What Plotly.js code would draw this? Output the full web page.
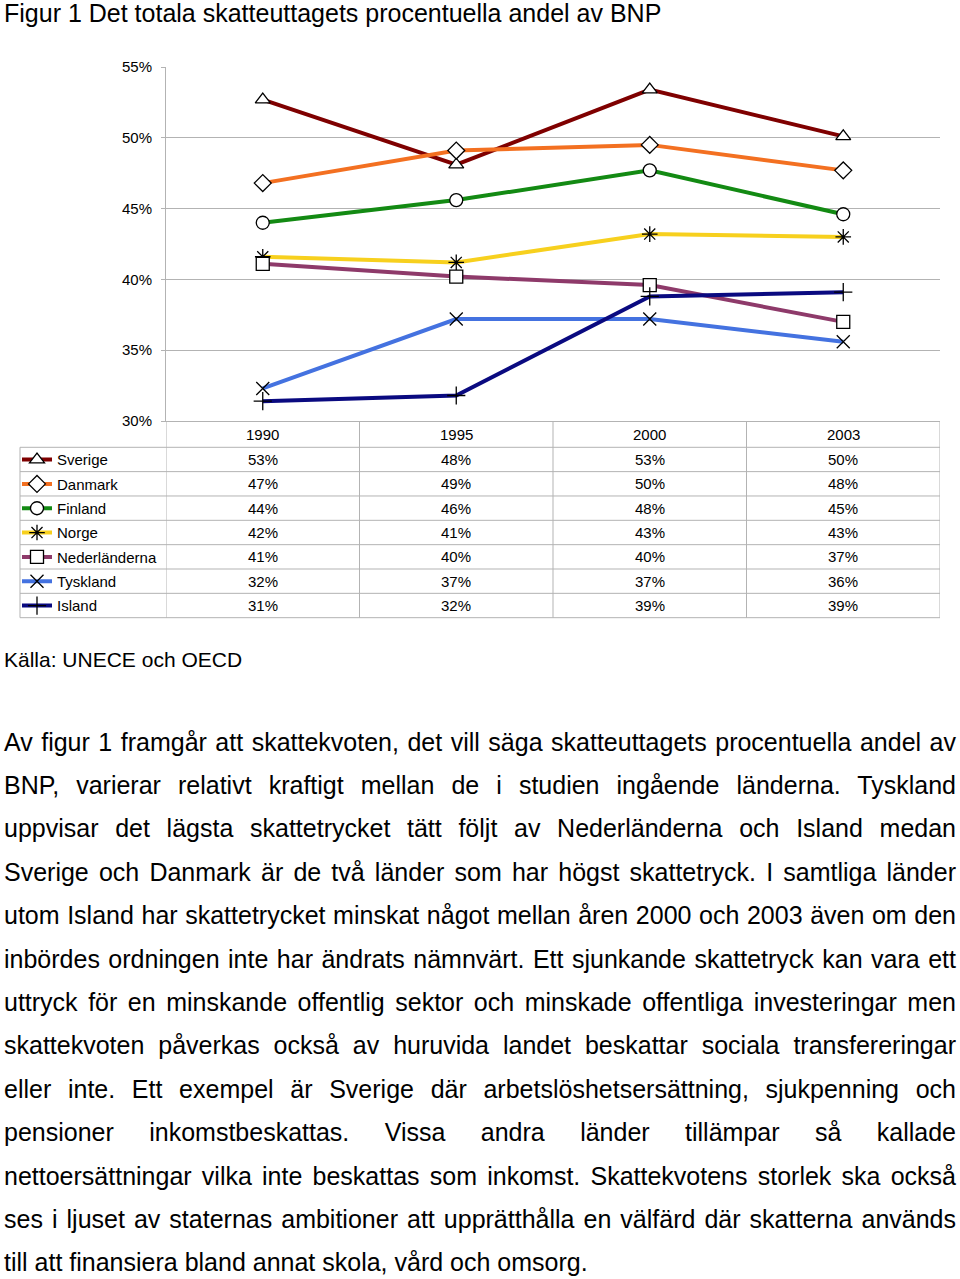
<!DOCTYPE html>
<html>
<head>
<meta charset="utf-8">
<script src="https://cdn.plot.ly/plotly-3.0.1.min.js"></script>
<style>
  html, body { margin: 0; padding: 0; background: #fff; }
  body { width: 960px; height: 1279px; position: relative; overflow: hidden;
         font-family: "Liberation Sans", Arial, sans-serif; color: #000; }
  #chart { position: absolute; left: 0; top: 0; width: 960px; height: 640px; }
  #source { position: absolute; left: 4px; top: 648px; font-size: 21px; line-height: 24px; white-space: nowrap; }
  #para { position: absolute; left: 4px; top: 720.6px; width: 952px; font-size: 25px; }
  #para div { height: 43.42px; line-height: 43.42px; white-space: nowrap; text-align: justify; text-align-last: justify; }
  #para div.last { text-align-last: left; }
</style>
</head>
<body>
<div id="chart"></div>
<div id="source">Källa: UNECE och OECD</div>
<div id="para">
  <div>Av figur 1 framgår att skattekvoten, det vill säga skatteuttagets procentuella andel av</div>
  <div>BNP, varierar relativt kraftigt mellan de i studien ingående länderna. Tyskland</div>
  <div>uppvisar det lägsta skattetrycket tätt följt av Nederländerna och Island medan</div>
  <div>Sverige och Danmark är de två länder som har högst skattetryck. I samtliga länder</div>
  <div>utom Island har skattetrycket minskat något mellan åren 2000 och 2003 även om den</div>
  <div>inbördes ordningen inte har ändrats nämnvärt. Ett sjunkande skattetryck kan vara ett</div>
  <div>uttryck för en minskande offentlig sektor och minskade offentliga investeringar men</div>
  <div>skattekvoten påverkas också av huruvida landet beskattar sociala transfereringar</div>
  <div>eller inte. Ett exempel är Sverige där arbetslöshetsersättning, sjukpenning och</div>
  <div>pensioner inkomstbeskattas. Vissa andra länder tillämpar så kallade</div>
  <div>nettoersättningar vilka inte beskattas som inkomst. Skattekvotens storlek ska också</div>
  <div>ses i ljuset av staternas ambitioner att upprätthålla en välfärd där skatterna används</div>
  <div class="last">till att finansiera bland annat skola, vård och omsorg.</div>
</div>
<script>
// ---- data (percent of GDP) ----
var years = ['1990', '1995', '2000', '2003'];
var countries = ['Sverige', 'Danmark', 'Finland', 'Norge', 'Nederländerna', 'Tyskland', 'Island'];
var sverige       = [52.7, 48.1, 53.4, 50.1];
var danmark       = [46.8, 49.1, 49.5, 47.7];
var finland       = [44.0, 45.6, 47.7, 44.6];
var norge         = [41.6, 41.2, 43.2, 43.0];
var nederlanderna = [41.1, 40.2, 39.6, 37.0];
var tyskland      = [32.3, 37.2, 37.2, 35.6];
var island        = [31.4, 31.8, 38.8, 39.1];
var yTicks = [30, 35, 40, 45, 50, 55];

// ---- styles ----
var W = 960, H = 640;
var series = [sverige, danmark, finland, norge, nederlanderna, tyskland, island];
var colors = ['#7f0000', '#f37021', '#138a13', '#f7d01e', '#8e3a6a', '#4472e0', '#0a0a80'];
var symbols = ['triangle-up', 'diamond', 'circle', 'asterisk-open', 'square', 'x-thin-open', 'cross-thin-open'];
var openSym = [false, false, false, true, false, true, true];

function px(x) { return x / W; }
function py(y) { return 1 - y / H; }

var plotL = 166, plotR = 940, plotT = 67, plotB = 421;
var rowTop = 447.3, rowH = 24.34, tableBottom = rowTop + rowH * countries.length;
var gridColor = '#b3b3b3';
var fontFam = '"Liberation Sans", Arial, sans-serif';

var traces = countries.map(function (name, i) {
  return {
    type: 'scatter', mode: 'lines+markers', name: name, legendgroup: name,
    x: years, y: series[i], cliponaxis: false,
    line: { color: colors[i], width: 4 },
    marker: openSym[i]
      ? { symbol: symbols[i], size: 13, color: '#000', line: { width: 1.3, color: '#000' } }
      : { symbol: symbols[i], size: 13, color: '#fff', line: { width: 1.3, color: '#000' } }
  };
});

var annotations = [];
years.forEach(function (yr, j) {
  annotations.push({ xref: 'x', yref: 'paper', x: j, y: py(434), text: yr, showarrow: false,
    xanchor: 'center', yanchor: 'middle', font: { size: 15, family: fontFam, color: '#000' } });
  series.forEach(function (s, i) {
    annotations.push({ xref: 'x', yref: 'paper', x: j, y: py(rowTop + rowH * (i + 0.5)),
      text: Math.round(s[j]) + '%', showarrow: false, xanchor: 'center', yanchor: 'middle',
      font: { size: 15, family: fontFam, color: '#000' } });
  });
});

var shapes = [];
for (var k = 0; k <= countries.length; k++) {
  var yy = rowTop + rowH * k;
  shapes.push({ type: 'line', xref: 'paper', yref: 'paper', x0: px(20), x1: px(plotR), y0: py(yy), y1: py(yy),
    line: { color: gridColor, width: 1 } });
}
shapes.push({ type: 'line', xref: 'paper', yref: 'paper', x0: px(20), x1: px(20), y0: py(rowTop), y1: py(tableBottom),
  line: { color: gridColor, width: 1 } });
for (var c = 0; c <= years.length; c++) {
  shapes.push({ type: 'line', xref: 'x', yref: 'paper', x0: c - 0.5, x1: c - 0.5, y0: py(plotB), y1: py(tableBottom),
    line: { color: gridColor, width: 1 } });
}

var layout = {
  width: W, height: H,
  margin: { l: 0, r: 0, t: 0, b: 0, pad: 0 },
  paper_bgcolor: '#fff', plot_bgcolor: '#fff',
  font: { family: fontFam, size: 15, color: '#000' },
  title: { text: 'Figur 1 Det totala skatteuttagets procentuella andel av BNP',
    x: px(4), xanchor: 'left', xref: 'container', y: py(13.5), yanchor: 'middle', yref: 'container',
    font: { size: 25, family: fontFam, color: '#000' } },
  showlegend: true,
  legend: { x: px(17), y: py(443.3), xanchor: 'left', yanchor: 'top', bgcolor: 'rgba(0,0,0,0)',
    borderwidth: 0, tracegroupgap: rowH - 22.5, font: { size: 15, family: fontFam, color: '#000' },
    itemclick: false, itemdoubleclick: false },
  xaxis: { type: 'category', domain: [px(plotL), px(plotR)], range: [-0.5, years.length - 0.5],
    showticklabels: false, ticks: '', showgrid: false, zeroline: false,
    showline: true, linecolor: gridColor, linewidth: 1, fixedrange: true },
  yaxis: { domain: [py(plotB), py(plotT)], range: [30, 55], tickvals: yTicks,
    ticktext: yTicks.map(function (v) { return v + '%'; }),
    ticks: 'outside', ticklen: 4, tickcolor: gridColor, ticklabelstandoff: 6,
    showgrid: true, gridcolor: gridColor, gridwidth: 1, zeroline: false,
    showline: true, linecolor: gridColor, linewidth: 1,
    tickfont: { size: 15, family: fontFam, color: '#000' }, fixedrange: true },
  shapes: shapes,
  annotations: annotations
};

Plotly.newPlot('chart', traces, layout, { displayModeBar: false, staticPlot: true });
</script>
</body>
</html>
